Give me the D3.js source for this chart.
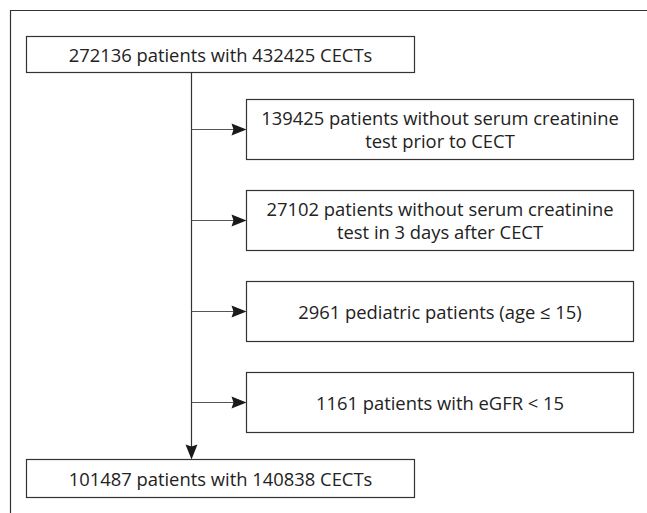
<!DOCTYPE html>
<html>
<head>
<meta charset="utf-8">
<script src="https://cdn.jsdelivr.net/npm/d3@7"></script>
<style>
  body { margin: 0; background: #fff; }
  svg { display: block; }
  text { font-family: "Open Sans", Lato, sans-serif; fill: #222; }
</style>
</head>
<body>
<div id="drawing_region"></div>
<script>
// flow counts
const startLabel = ["272136 patients with 432425 CECTs"];
const endLabel = ["101487 patients with 140838 CECTs"];
const exclusions = [
    ["139425 patients without serum creatinine", "test prior to CECT"],
    ["27102 patients without serum creatinine", "test in 3 days after CECT"],
    ["2961 pediatric patients (age \u2264 15)"],
    ["1161 patients with eGFR < 15"]
];

const width = 647, height = 513;
const svg = d3.select("#drawing_region").append("svg")
    .attr("width", width)
    .attr("height", height);

const ink = "#333";

// pick font size so the top label spans about 304px like the original
const probe = svg.append("text").style("font-size", "16px").text(startLabel[0]);
const fontSize = 16 * 304 / probe.node().getComputedTextLength();
probe.remove();

// outer frame (top and left only)
svg.append("path")
    .attr("d", "M10.5,513 V10.5 H647")
    .attr("fill", "none")
    .attr("stroke", ink)
    .attr("stroke-width", 1.2);

const main = { x: 26.5, w: 388, h: 36 };
const side = { x: 246.5, w: 387, h: 60 };
const spineX = 191.5;

const yside = d3.scaleLinear().domain([0, 1]).range([99.5, 190.5]);

function box(x, y, w, h, lines) {
    const g = svg.append("g");
    g.append("rect")
        .attr("x", x).attr("y", y)
        .attr("width", w).attr("height", h)
        .attr("fill", "#fff")
        .attr("stroke", ink)
        .attr("stroke-width", 1.2);
    const lh = 23;
    const cy = y + h / 2 + 1;
    g.selectAll("text").data(lines).enter().append("text")
        .attr("x", x + w / 2)
        .attr("y", (d, i) => cy + (i - (lines.length - 1) / 2) * lh)
        .attr("dy", "0.35em")
        .attr("text-anchor", "middle")
        .style("font-size", fontSize + "px")
        .text(d => d);
}

function arrowHead(x, y, dir) {
    // tip at (x, y)
    const L = 15, W = 6;
    let pts;
    if (dir === "right") pts = [[x, y], [x - L, y - W], [x - L + 2, y], [x - L, y + W]];
    else pts = [[x, y], [x - W, y - L], [x, y - L + 2], [x + W, y - L]];
    svg.append("polygon")
        .attr("points", pts.map(p => p.join(",")).join(" "))
        .attr("fill", "#1a1a1a");
}

const topY = 36.5, botY = 459.5;

// spine
svg.append("line")
    .attr("x1", spineX).attr("x2", spineX)
    .attr("y1", topY + main.h).attr("y2", botY - 4)
    .attr("stroke", ink).attr("stroke-width", 1.2);
arrowHead(spineX, botY, "down");

exclusions.forEach((lines, i) => {
    const y = yside(i);
    const my = Math.round(y + side.h / 2) - 0.5;
    svg.append("line")
        .attr("x1", spineX).attr("x2", side.x - 4)
        .attr("y1", my).attr("y2", my)
        .attr("stroke", "#555").attr("stroke-width", 1.2);
    arrowHead(side.x, my, "right");
    box(side.x, y, side.w, side.h, lines);
});

box(main.x, topY, main.w, main.h, startLabel);
box(main.x, botY, main.w, 38, endLabel);
</script>
</body>
</html>
